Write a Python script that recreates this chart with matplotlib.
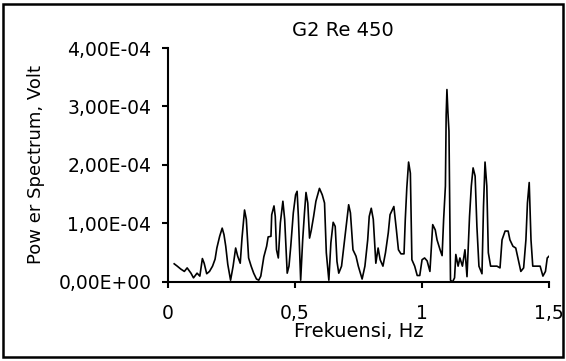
import matplotlib
matplotlib.use("Agg")
import matplotlib.pyplot as plt
from matplotlib.ticker import FuncFormatter, MultipleLocator
from matplotlib.patches import Rectangle

plt.rcParams['font.family'] = ['DejaVu Sans']

# frequency (Hz) and power spectrum (in units of 1e-4 Volt)
freq = [0.024, 0.036, 0.05, 0.064, 0.075, 0.09, 0.1, 0.114, 0.125, 0.135,
        0.142, 0.152, 0.163, 0.175, 0.185, 0.192, 0.203, 0.213, 0.22, 0.227,
        0.235, 0.246, 0.256, 0.266, 0.274, 0.284, 0.291, 0.301, 0.308, 0.317,
        0.327, 0.337, 0.348, 0.357, 0.365, 0.377, 0.388, 0.394, 0.405, 0.408,
        0.417, 0.422, 0.427, 0.434, 0.442, 0.452, 0.459, 0.469, 0.476, 0.483,
        0.493, 0.502, 0.508, 0.513, 0.522, 0.53, 0.537, 0.543, 0.55, 0.557,
        0.564, 0.573, 0.582, 0.596, 0.607, 0.616, 0.623, 0.633, 0.641, 0.65,
        0.658, 0.665, 0.672, 0.683, 0.692, 0.701, 0.711, 0.718, 0.728, 0.74,
        0.749, 0.764, 0.775, 0.786, 0.792, 0.8, 0.808, 0.818, 0.827, 0.835,
        0.846, 0.856, 0.867, 0.874, 0.889, 0.899, 0.907, 0.917, 0.929, 0.934,
        0.94, 0.947, 0.954, 0.96, 0.971, 0.981, 0.991, 1.0, 1.01, 1.02,
        1.031, 1.042, 1.052, 1.059, 1.071, 1.079, 1.085, 1.092, 1.095, 1.098,
        1.102, 1.106, 1.112, 1.12, 1.128, 1.133, 1.142, 1.149, 1.159, 1.169,
        1.177, 1.187, 1.194, 1.201, 1.209, 1.216, 1.224, 1.236, 1.242, 1.248,
        1.255, 1.261, 1.27, 1.284, 1.295, 1.307, 1.315, 1.327, 1.339, 1.346,
        1.358, 1.369, 1.379, 1.389, 1.4, 1.409, 1.415, 1.422, 1.429, 1.436,
        1.448, 1.465, 1.476, 1.486, 1.493, 1.5]
power = [0.31, 0.27, 0.22, 0.18, 0.24, 0.15, 0.07, 0.15, 0.10, 0.40,
         0.32, 0.14, 0.18, 0.27, 0.39, 0.58, 0.78, 0.92, 0.81, 0.61,
         0.30, 0.03, 0.27, 0.58, 0.44, 0.32, 0.75, 1.23, 1.07, 0.41,
         0.27, 0.15, 0.05, 0.03, 0.10, 0.43, 0.61, 0.77, 0.78, 1.15,
         1.30, 1.12, 0.55, 0.41, 1.01, 1.38, 1.07, 0.15, 0.27, 0.61,
         1.18, 1.49, 1.55, 1.12, 0.03, 0.72, 1.18, 1.53, 1.35, 0.75,
         0.89, 1.12, 1.38, 1.60, 1.49, 1.35, 0.50, 0.03, 0.67, 1.02,
         0.95, 0.35, 0.15, 0.27, 0.61, 0.95, 1.32, 1.18, 0.55, 0.44,
         0.27, 0.05, 0.27, 0.72, 1.12, 1.26, 1.07, 0.32, 0.58, 0.38,
         0.27, 0.50, 0.84, 1.15, 1.29, 0.89, 0.55, 0.48, 0.48, 1.07,
         1.61, 2.05, 1.86, 0.38, 0.27, 0.11, 0.11, 0.38, 0.41, 0.36,
         0.18, 0.98, 0.89, 0.72, 0.55, 0.45, 1.07, 1.64, 2.86, 3.29,
         2.89, 2.58, 0.03, 0.0, 0.07, 0.47, 0.27, 0.41, 0.27, 0.55,
         0.09, 1.12, 1.64, 1.95, 1.81, 0.95, 0.27, 0.14, 1.29, 2.05,
         1.64, 0.50, 0.27, 0.27, 0.27, 0.24, 0.72, 0.87, 0.87, 0.72,
         0.61, 0.58, 0.38, 0.18, 0.24, 0.72, 1.35, 1.70, 0.72, 0.27,
         0.27, 0.27, 0.10, 0.18, 0.41, 0.44]
power = [p * 1e-4 for p in power]

fig = plt.figure(figsize=(5.66, 3.61), dpi=100)
ax = fig.add_axes([0.297, 0.219, 0.673, 0.648])
ax.plot(freq, power, color='black', linewidth=1.2)

ax.set_xlim(0, 1.5)
ax.set_ylim(0, 4e-4)
ax.xaxis.set_major_locator(MultipleLocator(0.5))
ax.yaxis.set_major_locator(MultipleLocator(1e-4))
ax.xaxis.set_major_formatter(FuncFormatter(lambda v, p: f"{v:g}".replace('.', ',')))
ax.yaxis.set_major_formatter(FuncFormatter(lambda v, p: f"{v:.2E}".replace('.', ',')))

for s in ['top', 'right']:
    ax.spines[s].set_visible(False)
for s in ['left', 'bottom']:
    ax.spines[s].set_linewidth(1.5)
ax.tick_params(direction='out', length=4, width=1.5, labelsize=13.5)
ax.tick_params(axis='y', pad=8)
ax.tick_params(axis='x', pad=12)

ax.set_xlabel("Frekuensi, Hz", fontsize=14, labelpad=-1)
ax.set_ylabel("Pow er Spectrum, Volt", fontsize=13, labelpad=10)
fig.text(0.606, 0.915, "G2 Re 450", ha='center', va='center', fontsize=14)

# chart frame
fig.patches.append(Rectangle((0.005, 0.01), 0.99, 0.978, transform=fig.transFigure,
                             fill=False, edgecolor='black', linewidth=1.8))

plt.savefig("out.png", dpi=100)
